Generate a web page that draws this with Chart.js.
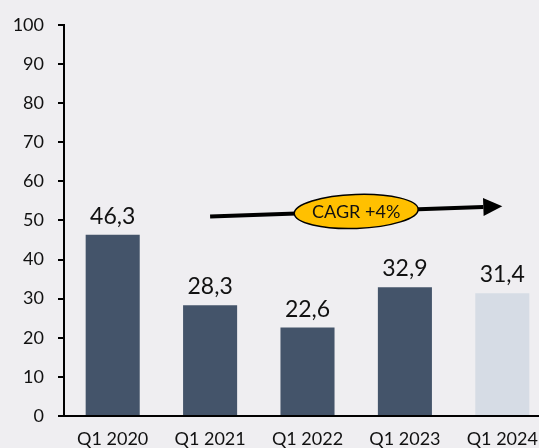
<!DOCTYPE html>
<html>
<head>
<meta charset="utf-8">
<script src="https://cdn.jsdelivr.net/npm/chart.js@4/dist/chart.umd.min.js"></script>
<style>
  html, body { margin: 0; padding: 0; overflow: hidden; background: #efeef1; }
  #wrap { width: 552px; height: 448px; }
</style>
</head>
<body>
<div id="wrap"><canvas id="MyChart" width="552" height="448"></canvas></div>
<script>
const quarters = ["Q1 2020", "Q1 2021", "Q1 2022", "Q1 2023", "Q1 2024"];
const revenue = [46.3, 28.3, 22.6, 32.9, 31.4];
const barColors = ["#44546a", "#44546a", "#44546a", "#44546a", "#d6dce5"];
const yTicks = [0, 10, 20, 30, 40, 50, 60, 70, 80, 90, 100];
// trend arrow: [category index, value] for start and end, and the label
const cagrFrom = [1, 51];
const cagrTo = [4, 53.6];
const cagrLabel = "CAGR +4%";

const FONT = "Lato, 'Open Sans', sans-serif";

const background = {
    id: "background",
    beforeDraw(chart) {
        const c = chart.ctx;
        c.save();
        c.fillStyle = "#efeef1";
        c.fillRect(0, 0, chart.width, chart.height);
        c.restore();
    }
};

const barLabels = {
    id: "barLabels",
    afterDatasetsDraw(chart) {
        const c = chart.ctx;
        const meta = chart.getDatasetMeta(0);
        c.save();
        c.font = "23px " + FONT;
        c.fillStyle = "#111111";
        c.textAlign = "center";
        c.textBaseline = "alphabetic";
        meta.data.forEach((bar, i) => {
            c.fillText(revenue[i].toFixed(1).replace(".", ","), bar.x, bar.y - 11);
        });
        c.restore();
    }
};

const cagrArrow = {
    id: "cagrArrow",
    afterDraw(chart) {
        const x = chart.scales.x, y = chart.scales.y;
        const c = chart.ctx;
        const x1 = x.getPixelForValue(cagrFrom[0]), y1 = y.getPixelForValue(cagrFrom[1]);
        const x2 = x.getPixelForValue(cagrTo[0]), y2 = y.getPixelForValue(cagrTo[1]);
        const ang = Math.atan2(y2 - y1, x2 - x1);
        const headLen = 19, headHalf = 9;
        const bx = x2 - headLen * Math.cos(ang), by = y2 - headLen * Math.sin(ang);
        c.save();
        c.strokeStyle = "#000";
        c.lineWidth = 4;
        c.beginPath();
        c.moveTo(x1, y1);
        c.lineTo(bx, by);
        c.stroke();
        c.fillStyle = "#000";
        c.beginPath();
        c.moveTo(x2, y2);
        c.lineTo(bx + headHalf * Math.sin(ang), by - headHalf * Math.cos(ang));
        c.lineTo(bx - headHalf * Math.sin(ang), by + headHalf * Math.cos(ang));
        c.closePath();
        c.fill();

        // label bubble halfway along
        const mx = x.getPixelForValue((cagrFrom[0] + cagrTo[0]) / 2);
        const my = y.getPixelForValue((cagrFrom[1] + cagrTo[1]) / 2);
        c.beginPath();
        c.ellipse(mx, my, 62, 17, ang, 0, Math.PI * 2);
        c.fillStyle = "#ffc000";
        c.fill();
        c.lineWidth = 1.5;
        c.stroke();
        c.fillStyle = "#111";
        c.font = "18px " + FONT;
        c.textAlign = "center";
        c.textBaseline = "middle";
        c.fillText(cagrLabel, mx, my + 1);
        c.restore();
    }
};

new Chart(document.getElementById("MyChart"), {
    type: "bar",
    data: {
        labels: quarters,
        datasets: [{
            data: revenue,
            backgroundColor: barColors,
            borderWidth: 0,
            categoryPercentage: 1,
            barPercentage: 0.555
        }]
    },
    options: {
        responsive: false,
        animation: false,
        layout: { padding: { top: 17, right: 1, left: 0, bottom: 0 } },
        plugins: { legend: { display: false }, tooltip: { enabled: false } },
        scales: {
            x: {
                grid: { display: false, drawTicks: false },
                border: { display: true, color: "#000", width: 2 },
                ticks: { color: "#111", font: { family: FONT, size: 18 }, padding: 12, maxRotation: 0 },
                afterFit(s) { s.height = 32; }
            },
            y: {
                min: 0,
                max: 100,
                afterBuildTicks(s) { s.ticks = yTicks.map(v => ({ value: v })); },
                grid: { drawOnChartArea: false, drawTicks: true, tickLength: 6, color: "#000", lineWidth: 2 },
                border: { display: true, color: "#000", width: 2 },
                ticks: { color: "#111", font: { family: FONT, size: 18 }, padding: 14 },
                afterFit(s) { s.width = 64; }
            }
        }
    },
    plugins: [background, barLabels, cagrArrow]
});
</script>
</body>
</html>
